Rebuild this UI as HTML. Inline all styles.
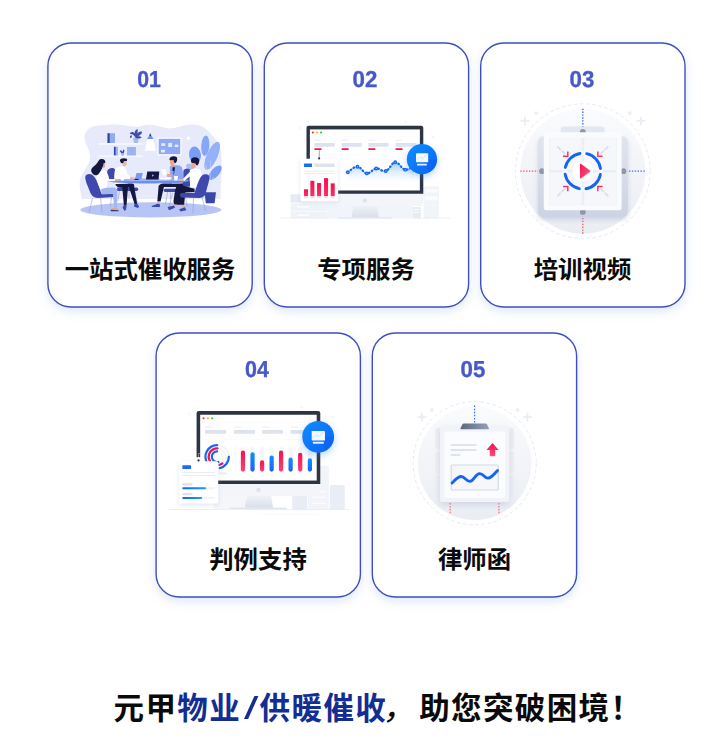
<!DOCTYPE html>
<html lang="zh-CN">
<head>
<meta charset="utf-8">
<title>元甲物业/供暖催收</title>
<style>
html,body{margin:0;padding:0;background:#fff;}
body{width:728px;height:740px;position:relative;overflow:hidden;font-family:"Liberation Sans","Noto Sans CJK SC",sans-serif;}
svg{position:absolute;overflow:visible;}
.cards{left:0;top:0;width:728px;height:740px;}
.num{position:absolute;width:206px;text-align:center;font-weight:700;font-size:23.1px;line-height:26px;color:#4759ca;-webkit-text-stroke:0.35px #4759ca;transform:scaleX(.965);text-rendering:geometricPrecision;}
.ttl{position:absolute;width:226px;text-align:center;font-weight:700;font-size:24.4px;line-height:34px;color:#0a0a0a;white-space:nowrap;}
.foot{position:absolute;left:113.5px;top:686px;font-weight:700;font-size:30.5px;line-height:44px;letter-spacing:1.4px;color:#0a0a0a;white-space:nowrap;}
.foot i{font-style:normal;font-weight:400;display:inline-block;transform:scaleX(1.7);margin:0 4.5px 0 5.5px;letter-spacing:0;}
.foot u{text-decoration:none;font-weight:500;display:inline-block;transform:skewX(-12deg);margin:0 2px 0 -2px;}
.foot b{color:#122e93;font-weight:700;}
</style>
</head>
<body>
<svg class="cards" viewBox="0 0 728 740">
<defs>
<filter id="cs" x="-15%" y="-10%" width="130%" height="125%"><feDropShadow dx="0" dy="4" stdDeviation="5" flood-color="#6f95e6" flood-opacity="0.22"/></filter>
</defs>
<g fill="#fff" stroke="#3d4fbc" stroke-width="1.4" filter="url(#cs)">
<rect x="47.9" y="43" width="204.3" height="264" rx="23"/>
<rect x="264.3" y="43" width="204.3" height="264" rx="23"/>
<rect x="480.7" y="43" width="204.3" height="264" rx="23"/>
<rect x="156.1" y="333" width="204.3" height="264" rx="23"/>
<rect x="372.3" y="333" width="204.3" height="264" rx="23"/>
</g>
</svg>
<div class="num" style="left:46.2px;top:66.4px;transform:scaleX(.92)">01</div>
<div class="num" style="left:261.8px;top:66.4px">02</div>
<div class="num" style="left:478.8px;top:66.4px">03</div>
<div class="num" style="left:154.1px;top:356.4px;transform:scaleX(.93)">04</div>
<div class="num" style="left:370.3px;top:356.4px">05</div>
<div class="ttl" style="left:37px;top:253.4px">一站式催收服务</div>
<div class="ttl" style="left:253px;top:253.4px">专项服务</div>
<div class="ttl" style="left:469.5px;top:253.4px">培训视频</div>
<div class="ttl" style="left:145px;top:543.4px">判例支持</div>
<div class="ttl" style="left:361.5px;top:543.4px">律师函</div>
<svg style="left:75px;top:120px;width:150px;height:100px" viewBox="0 0 1110 740">
<!-- background blob -->
<path d="M70 120 C76 70 120 46 164 43 C220 38 260 33 307 34 C360 35 400 50 449 50 C490 50 510 36 545 35 C610 34 650 62 703 62 C760 62 800 34 866 34 C930 34 970 60 995 91 C1030 130 1045 150 1060 172 C1085 220 1085 280 1085 340 C1085 430 1075 500 1078 585 L50 585 C45 540 30 500 36 450 C42 390 120 330 112 262 C106 210 66 170 70 120Z" fill="#e6eafb"/>
<!-- ground -->
<ellipse cx="561" cy="665" rx="522" ry="56" fill="#b7c5f6"/>
<!-- shelves -->
<rect x="170" y="170" width="332" height="14" fill="#f4f6fe"/>
<rect x="170" y="262" width="332" height="13" fill="#f4f6fe"/>
<rect x="240" y="98" width="18" height="72" fill="#3442a6"/>
<rect x="258" y="98" width="38" height="72" fill="#8fabf5"/>
<rect x="288" y="198" width="14" height="64" fill="#3442a6"/>
<rect x="302" y="198" width="16" height="64" fill="#9db3f2"/>
<rect x="385" y="200" width="66" height="62" fill="#9db3f2"/>
<rect x="418" y="200" width="4" height="62" fill="#8fabf5"/>
<!-- small plant on lower shelf -->
<path d="M340 245 L364 245 L360 264 L344 264Z" fill="#a9bbe8"/>
<path d="M352 246 C330 240 332 225 340 222 C345 230 350 232 352 240 C352 228 356 220 362 218 C368 226 366 236 358 246Z" fill="#3442a6"/>
<!-- plant upper shelf -->
<path d="M430 132 L472 132 L466 170 L436 170Z" fill="#a9bbe8"/>
<path d="M450 135 C440 110 420 100 405 104 C410 86 430 84 442 100 C440 84 448 70 462 66 C466 80 464 92 458 104 C468 88 486 80 496 88 C494 104 480 112 466 120 C480 118 490 122 494 132 C480 138 462 136 450 135Z" fill="#3f4ea8"/>
<path d="M420 112 C408 112 404 124 408 134 C418 132 424 124 420 112Z" fill="#3f4ea8"/>
<!-- lamp -->
<rect x="556" y="30" width="3" height="78" fill="#fff"/>
<path d="M557 96 L566 120 L548 120Z" fill="#2c357f"/><path d="M548 118 L566 118 L582 141 L533 141Z" fill="#6b8cf0"/>
<path d="M535 140 L580 140 L598 228 L517 228Z" fill="#fff"/>
<!-- board -->
<rect x="610" y="130" width="178" height="132" fill="#fff"/>
<rect x="619" y="139" width="160" height="114" fill="#8fa9f5"/>
<rect x="638" y="172" width="30" height="20" fill="#e4ebfe"/>
<rect x="690" y="170" width="28" height="30" fill="#e4ebfe"/>
<rect x="738" y="182" width="26" height="18" fill="#e4ebfe"/>
<rect x="636" y="220" width="30" height="20" fill="#e4ebfe"/>
<circle cx="840" cy="135" r="12" fill="#fff"/>
<!-- big plant -->
<g transform="translate(518 0)">
<ellipse cx="335" cy="345" rx="32" ry="20" fill="#a9bcf5" transform="rotate(20 335 345)"/>
<ellipse cx="370" cy="258" rx="44" ry="62" fill="#7a9df5" transform="rotate(-8 370 258)"/>
<ellipse cx="446" cy="190" rx="30" ry="76" fill="#86a6f6" transform="rotate(4 446 190)"/>
<ellipse cx="497" cy="265" rx="40" ry="112" fill="#95b1f7" transform="rotate(24 497 265)"/>
<ellipse cx="518" cy="390" rx="30" ry="66" fill="#7a9df5" transform="rotate(42 518 390)"/>
<path d="M480 540 L486 300 M480 540 L450 330 M482 540 L505 420" stroke="#dfe6fb" stroke-width="3" fill="none"/>
<path d="M440 535 L525 535 L515 616 L450 616Z" fill="#3b47a8"/>
</g>
<!-- chairs behind -->
<path d="M240 375 C250 350 285 350 296 365 L300 450 C285 455 255 452 245 440 C236 420 234 395 240 375Z" fill="#3f49ad"/>
<g transform="translate(518 0)">
<path d="M284 378 C288 354 334 350 343 378 L345 440 L330 494 L258 494 L262 470 L284 440Z" fill="#3f49ad"/>
<path d="M167 533 L151 627 M190 533 L187 588 M206 540 L171 666 M250 530 L262 600" stroke="#8e97c9" stroke-width="4" fill="none"/>
<path d="M150 508 L250 508 Q262 510 262 520 Q262 532 250 533 L150 533 Q138 531 138 520 Q138 510 150 508Z" fill="#3f49ad"/>
</g>
<!-- man 2 lower -->
<path d="M330 520 L318 600 M440 522 L462 610 M400 520 L400 580" stroke="#8e97c9" stroke-width="4" fill="none"/>
<path d="M312 500 L455 500 Q468 502 468 513 Q468 525 455 526 L312 526Z" fill="#3f49ad"/>
<path d="M298 470 L425 470 Q442 474 438 494 L460 620 L442 626 L400 500 L392 500 L381 632 L362 632 L350 502 Q302 502 298 470Z" fill="#14173f"/>
<path d="M360 630 L382 630 L378 662 L368 674 L352 650Z" fill="#3a49b0"/>
<path d="M440 624 L460 618 L474 640 L466 652 L436 640Z" fill="#3a49b0"/>
<!-- man 3 lower -->
<g transform="translate(518 0)">
<path d="M280 470 L135 470 C108 472 98 486 100 500 L91 603 L115 604 L140 496 L282 496Z" fill="#14173f"/>
<path d="M92 603 L109 603 L108 624 L93 624Z" fill="#f2a58c"/>
<path d="M50 636 L92 620 L110 624 L110 644 L50 644Z" fill="#3a49b0"/>
</g>
<!-- torsos -->
<path d="M296 368 C306 348 340 340 362 346 C378 354 384 380 386 405 L390 470 L296 474 C288 440 288 400 296 368Z" fill="#fff"/>
<path d="M350 298 L380 298 L382 330 L372 342 L355 340Z" fill="#f2b39d"/>
<path d="M332 300 C334 284 360 278 386 288 L384 304 L362 304 L356 320 L340 318Z" fill="#14173f"/>
<g transform="translate(518 0)">
<path d="M184 345 C204 332 252 332 270 346 C282 362 283 420 281 470 L200 474 L196 420 L184 400Z" fill="#8ca6f0"/>
<path d="M186 292 L216 292 L218 330 L206 346 L192 338 L184 318Z" fill="#f2a58c"/>
<path d="M180 290 C184 268 215 262 236 276 C242 292 236 310 226 320 L214 312 L212 296 L184 298Z" fill="#14173f"/>
<path d="M205 350 L222 350 L214 404 L200 398Z" fill="#14173f"/>
</g>
<!-- table -->
<path d="M225 448 C225 438 400 434 530 434 C680 434 848 438 848 448 C848 462 700 470 530 470 C380 470 225 462 225 448Z" fill="#6f8deb"/>
<path d="M235 444 C300 437 420 435 530 435 C650 435 800 438 840 444 C780 450 650 452 530 452 C410 452 290 450 235 444Z" fill="#9fb6f6"/>
<!-- arms + items -->
<path d="M366 400 L388 400 L410 418 L410 436 L384 436 Z" fill="#fff"/><path d="M408 422 L440 426 L440 436 L408 436Z" fill="#f2b39d"/>
<path d="M335 415 L366 415 L362 447 L339 447Z" fill="#fff"/>
<path d="M455 392 L502 392 L490 440 L443 440Z" fill="#7d9af0"/>
<rect x="440" y="436" width="30" height="8" fill="#14173f"/>
<path d="M535 382 L624 382 L618 440 L525 440Z" fill="#14173f"/>
<path d="M570 402 L586 411 L570 420Z" fill="#8ca5f0"/>
<rect x="250" y="440" width="70" height="8" fill="#fff"/>
<g transform="translate(518 0)">
<rect x="108" y="428" width="80" height="13" fill="#fff"/>
<path d="M120 366 L150 362 L162 406 L136 412Z" fill="#fff"/>
<path d="M190 372 L214 380 L206 420 L166 420 L162 404 L186 400Z" fill="#8ca6f0"/>
<path d="M160 402 L196 400 L198 418 L164 420Z" fill="#f2a58c"/>
<path d="M214 415 L244 415 L240 447 L218 447Z" fill="#fff"/>
</g>
<!-- woman chair -->
<path d="M76 420 C80 398 110 394 132 408 C160 430 180 500 196 545 L292 545 C304 548 304 566 292 570 L170 578 C140 578 120 560 110 530 C96 490 74 450 76 420Z" fill="#3f49ad"/>
<path d="M130 578 L104 684 M190 578 L200 692 M270 572 L262 640" stroke="#8e97c9" stroke-width="4" fill="none"/>
<!-- woman -->
<path d="M190 502 L290 500 C310 504 316 520 314 540 L312 650 L290 650 L280 546 L200 552Z" fill="#a3b8f2"/>
<path d="M268 650 L312 650 L324 670 L272 674Z" fill="#e5a58f"/><path d="M262 664 L322 668 L322 676 L266 676Z" fill="#2c357f"/>
<path d="M160 400 C180 372 216 366 232 380 C244 400 250 420 252 436 L300 440 L298 452 L240 456 L236 500 L190 512 C170 480 156 440 160 400Z" fill="#fff"/>
<path d="M204 316 L224 318 L222 350 L208 356Z" fill="#f0a98c"/>
<path d="M186 290 C210 284 228 296 224 318 L212 318 C210 340 196 372 176 398 C160 418 130 410 120 380 C116 350 150 340 164 318 C172 304 178 294 186 290Z" fill="#14173f"/>
<path d="M296 438 L322 440 L322 452 L296 452Z" fill="#f0a98c"/>
<!-- man 4 + chair -->
<g transform="translate(518 0)">
<path d="M359 572 L355 690 M421 568 L449 674 M300 572 L312 640" stroke="#8e97c9" stroke-width="4" fill="none"/>
<path d="M234 482 L280 484 L367 508 L367 532 L298 536 L290 628 L218 628 L210 603 L222 525Z" fill="#14173f"/>
<path d="M214 626 L236 626 L234 640 L216 640Z M272 632 L292 632 L292 650 L274 648Z" fill="#f2a58c"/>
<path d="M167 644 L214 632 L222 650 L178 668Z" fill="#3a49b0"/>
<path d="M253 660 L296 646 L306 668 L262 678Z" fill="#3a49b0"/>
<path d="M332 372 C350 354 395 354 412 372 C424 400 424 450 418 496 L336 500 L330 440Z" fill="#fff"/>
<path d="M344 372 L372 384 L290 452 L252 452 L252 438 L280 436Z" fill="#fff"/>
<path d="M249 438 L286 438 L286 451 L249 451Z" fill="#f2a58c"/>
<path d="M342 306 L368 306 L376 352 L350 358Z" fill="#f2a58c"/>
<path d="M339 300 C340 274 382 266 400 290 C406 310 396 330 384 338 L370 320 L344 316Z" fill="#14173f"/>
<path d="M476 420 C474 398 440 396 420 412 C396 440 380 500 366 540 L270 541 C256 544 256 570 270 574 L400 578 C430 578 448 560 452 530 C462 490 478 450 476 420Z" fill="#3f49ad"/>
</g>
</svg>
<svg style="left:275px;top:115px;width:190px;height:110px" viewBox="0 0 1278.7 740.3">
<defs>
<linearGradient id="g2red" x1="0" y1="0" x2="0" y2="1"><stop offset="0" stop-color="#f5104c"/><stop offset="1" stop-color="#fb3068"/></linearGradient>
<linearGradient id="g2area" x1="0" y1="0" x2="0" y2="1"><stop offset="0" stop-color="#9ccbfd"/><stop offset="1" stop-color="#ffffff" stop-opacity="0"/></linearGradient>
<linearGradient id="g2badge" x1="0" y1="0" x2="1" y2="1"><stop offset="0" stop-color="#0b8eff"/><stop offset="1" stop-color="#0a62fa"/></linearGradient>
<linearGradient id="g2stand" x1="0" y1="0" x2="0" y2="1"><stop offset="0" stop-color="#eef1f7"/><stop offset="1" stop-color="#d9dfea"/></linearGradient>
<filter id="f2card" x="-30%" y="-30%" width="160%" height="160%"><feDropShadow dx="0" dy="10" stdDeviation="14" flood-color="#8fa3c8" flood-opacity="0.28"/></filter>
<filter id="f2glow" x="-50%" y="-50%" width="200%" height="200%"><feDropShadow dx="0" dy="18" stdDeviation="22" flood-color="#2b8cff" flood-opacity="0.35"/></filter>
</defs>
<!-- background shapes -->
<rect x="105" y="535" width="246" height="160" rx="8" fill="#eff2f8"/>
<path d="M113 535 L175 535 L175 588 L105 588 L105 543 Q105 535 113 535Z" fill="#e6eaf3"/>
<rect x="105" y="590" width="246" height="8" fill="#f8f9fc"/>
<rect x="105" y="645" width="246" height="8" fill="#f8f9fc"/>
<rect x="150" y="612" width="80" height="12" rx="4" fill="#fbfcfe"/>
<rect x="150" y="668" width="80" height="12" rx="4" fill="#fbfcfe"/>
<rect x="1001" y="480" width="102" height="215" rx="6" fill="#f1f4f9"/>
<rect x="1008" y="500" width="86" height="22" fill="#fafbfd"/>
<rect x="1008" y="545" width="86" height="30" fill="#fafbfd"/>
<circle cx="1070" cy="603" r="9" fill="none" stroke="#fafbfd" stroke-width="5"/>
<circle cx="1036" cy="603" r="5" fill="#fafbfd"/>
<rect x="926" y="620" width="55" height="75" fill="#e6ebf4"/>
<rect x="934" y="632" width="40" height="8" fill="#fafbfd"/>
<rect x="934" y="650" width="40" height="8" fill="#fafbfd"/>
<!-- ground -->
<rect x="35" y="691" width="1145" height="4" fill="#e2e7f0"/>
<rect x="230" y="700" width="800" height="26" fill="none" stroke="#f3f5f9" stroke-width="3"/>
<!-- decorative dots -->
<circle cx="170" cy="88" r="9" fill="none" stroke="#eef1f6" stroke-width="4"/>
<circle cx="881" cy="48" r="8" fill="#f1f3f8"/>
<circle cx="1064" cy="148" r="10" fill="#f1f3f8"/>
<circle cx="225" cy="45" r="4" fill="#f1f3f8"/>
<!-- monitor -->
<rect x="351" y="600" width="580" height="92" fill="#f1f4fa"/>
<rect x="212" y="72" width="786" height="540" rx="14" fill="#f3f5fa"/>
<path d="M226 72 L984 72 Q998 72 998 86 L998 530 L212 530 L212 86 Q212 72 226 72Z" fill="#2e3542"/>
<rect x="235" y="97" width="740" height="411" fill="#fff"/>
<circle cx="605" cy="575" r="14" fill="#dde3ee"/>
<path d="M527 612 L688 612 L700 690 L515 690Z" fill="url(#g2stand)"/>
<rect x="425" y="688" width="361" height="8" fill="#dfe4ee"/>
<!-- screen content -->
<circle cx="255" cy="118" r="7" fill="#fb1f3f"/>
<circle cx="283" cy="118" r="7" fill="#fdb40e"/>
<circle cx="310" cy="118" r="7" fill="#12d22c"/>
<rect x="232" y="140" width="746" height="3" fill="#f3f5f9"/>
<rect x="232" y="262" width="746" height="3" fill="#f5f6fa"/>
<g fill="#dde3ee">
<rect x="265" y="188" width="136" height="25" rx="3"/><rect x="448" y="188" width="136" height="25" rx="3"/><rect x="628" y="188" width="136" height="25" rx="3"/><rect x="811" y="188" width="136" height="25" rx="3"/>
</g>
<g fill="#eceff5">
<rect x="265" y="166" width="46" height="8"/><rect x="448" y="166" width="46" height="8"/><rect x="628" y="166" width="46" height="8"/><rect x="811" y="166" width="46" height="8"/>
</g>
<g fill="#f5124e">
<rect x="265" y="224" width="48" height="12" rx="4"/><rect x="448" y="224" width="48" height="12" rx="4"/><rect x="628" y="224" width="48" height="12" rx="4"/><rect x="811" y="224" width="48" height="12" rx="4"/>
</g>
<!-- line chart -->
<path d="M490 385 C503 378 529 346 555 348 C581 350 593 391 618 393 C643 395 655 363 681 360 C707 357 720 385 746 377 C772 369 783 320 809 318 C835 316 851 364 876 368 C901 372 923 346 935 340 L935 470 L490 470Z" fill="url(#g2area)"/>
<path d="M490 385 C503 378 529 346 555 348 C581 350 593 391 618 393 C643 395 655 363 681 360 C707 357 720 385 746 377 C772 369 783 320 809 318 C835 316 851 364 876 368 C901 372 923 346 935 340" fill="none" stroke="#1465f0" stroke-width="15" stroke-linejoin="round" stroke-linecap="round" stroke-dasharray="5 19"/>
<g fill="#1465f0"><circle cx="490" cy="385" r="13"/><circle cx="555" cy="348" r="13"/><circle cx="618" cy="393" r="13"/><circle cx="681" cy="360" r="13"/><circle cx="746" cy="377" r="13"/><circle cx="809" cy="318" r="13"/><circle cx="876" cy="368" r="13"/></g>
<g fill="#cfe3fd"><circle cx="490" cy="385" r="3.5"/><circle cx="555" cy="348" r="3.5"/><circle cx="618" cy="393" r="3.5"/><circle cx="681" cy="360" r="3.5"/><circle cx="746" cy="377" r="3.5"/><circle cx="809" cy="318" r="3.5"/><circle cx="876" cy="368" r="3.5"/></g>
<!-- connector -->
<rect x="295.5" y="236" width="3" height="54" fill="#3a4150"/>
<!-- floating card -->
<rect x="172" y="295" width="253" height="285" rx="10" fill="#fff" filter="url(#f2card)"/>
<circle cx="297" cy="292" r="7" fill="#2e3542"/>
<rect x="195" y="327" width="54" height="23" rx="4" fill="#1a6cf5"/>
<rect x="265" y="327" width="136" height="23" rx="3" fill="#dde3ee"/>
<rect x="195" y="375" width="206" height="6" fill="#e6eaf2"/>
<rect x="195" y="392" width="68" height="6" fill="#e6eaf2"/>
<rect x="276" y="392" width="125" height="6" fill="#e6eaf2"/>
<g fill="url(#g2red)">
<rect x="195" y="500" width="27" height="46"/><rect x="238" y="443" width="27" height="103"/><rect x="283" y="458" width="27" height="88"/><rect x="330" y="425" width="27" height="121"/><rect x="375" y="460" width="27" height="86"/>
</g>
<g fill="#ff4d7e" opacity="0.18">
<rect x="195" y="548" width="27" height="14"/><rect x="238" y="548" width="27" height="14"/><rect x="283" y="548" width="27" height="14"/><rect x="330" y="548" width="27" height="14"/><rect x="375" y="548" width="27" height="14"/>
</g>
<!-- badge -->
<circle cx="989" cy="297" r="102" fill="url(#g2badge)" filter="url(#f2glow)"/>
<path d="M989 297 L1091 297 A102 102 0 0 1 1040 385Z" fill="#0a55f0" opacity="0.3"/>
<rect x="949" y="258" width="82" height="60" rx="3" fill="#f4f8ff"/>
<path d="M955 300 L980 282 L992 292 L1022 266" fill="none" stroke="#cfdcf5" stroke-width="5"/>
<rect x="956" y="328" width="66" height="12" rx="2" fill="#e8f0ff"/>
</svg>
<svg style="left:513px;top:100px;width:140px;height:140px" viewBox="0 0 728 728">
<defs>
<linearGradient id="g3bg" x1="0" y1="0" x2="0" y2="1"><stop offset="0" stop-color="#fafbfd"/><stop offset="1" stop-color="#eaedf3"/></linearGradient>
<linearGradient id="g3plate" x1="0" y1="0" x2="0" y2="1"><stop offset="0" stop-color="#e0e5ef"/><stop offset="1" stop-color="#ccd3e2"/></linearGradient>
<linearGradient id="g3play" x1="0" y1="0" x2="1" y2="1"><stop offset="0" stop-color="#f5104c"/><stop offset="1" stop-color="#ff5f8c"/></linearGradient>
<filter id="f3s" x="-20%" y="-20%" width="140%" height="150%"><feDropShadow dx="0" dy="14" stdDeviation="14" flood-color="#8f9cba" flood-opacity="0.35"/></filter>
</defs>
<circle cx="363" cy="370" r="350" fill="none" stroke="#e2e5ec" stroke-width="4.5" stroke-dasharray="18 14"/>
<circle cx="363" cy="370" r="325" fill="url(#g3bg)"/>
<g stroke="#eaedf4" stroke-width="9" stroke-linecap="round"><path d="M62 90 V128 M43 109 H81 M665 90 V128 M646 109 H684"/></g>
<circle cx="120" cy="68" r="10" fill="#eceff5"/><circle cx="607" cy="68" r="10" fill="#eceff5"/>
<!-- dotted lines -->
<g fill="none" stroke-width="7" stroke-dasharray="7 8">
<path d="M363 45 V150" stroke="#2f6cf2"/>
<path d="M588 370 H690" stroke="#2f6cf2"/>
<path d="M38 370 H140" stroke="#f9545f"/>
<path d="M363 598 V695" stroke="#f9545f"/>
</g>
<rect x="248" y="138" width="228" height="60" rx="16" fill="#e3e7f0"/>
<rect x="130" y="190" width="467" height="418" rx="26" fill="url(#g3plate)" filter="url(#f3s)"/>
<g fill="#8e96a8"><circle cx="363" cy="166" r="15"/><circle cx="574" cy="370" r="15"/><circle cx="151" cy="370" r="15"/><circle cx="363" cy="582" r="15"/></g>
<rect x="160" y="168" width="405" height="405" rx="14" fill="#fafbfd"/>
<rect x="188" y="196" width="351" height="351" rx="8" fill="#ebeef4"/>
<g fill="#f5f7fa"><rect x="190" y="198" width="167" height="166" rx="8"/><rect x="370" y="198" width="167" height="166" rx="8"/><rect x="190" y="377" width="167" height="168" rx="8"/><rect x="370" y="377" width="167" height="168" rx="8"/></g>
<!-- gray arrows -->
<g stroke="#d9dee8" stroke-width="9" stroke-linecap="round" stroke-dasharray="18 14"><path d="M233 244 L272 282 M493 244 L454 282 M233 498 L272 460 M493 498 L454 460"/></g>
<!-- red brackets -->
<g fill="none" stroke="#ff3366" stroke-width="8"><path d="M260 292 H285 V268"/><path d="M466 292 H441 V268"/><path d="M260 450 H285 V474"/><path d="M466 450 H441 V474"/></g>
<!-- blue ring -->
<circle cx="363" cy="370" r="93" fill="none" stroke="#fafbfd" stroke-width="22"/>
<circle cx="363" cy="370" r="93" fill="none" stroke="#1465f0" stroke-width="15" stroke-linecap="round" stroke-dasharray="110 36.1" stroke-dashoffset="-18"/>
<circle cx="363" cy="370" r="53" fill="#fff"/>
<path d="M348 336 Q348 329 354 333 L399 365 Q405 370 399 375 L354 407 Q348 411 348 404Z" fill="url(#g3play)"/>
</svg>
<svg style="left:165px;top:400px;width:190px;height:120px" viewBox="0 0 1172.3 740.4">
<defs>
<linearGradient id="g4red" x1="0" y1="0" x2="0" y2="1"><stop offset="0" stop-color="#f5104c"/><stop offset="1" stop-color="#ff3f78"/></linearGradient>
<linearGradient id="g4blue" x1="0" y1="0" x2="0" y2="1"><stop offset="0" stop-color="#0c92ff"/><stop offset="1" stop-color="#1a63f2"/></linearGradient>
<linearGradient id="g4bar" x1="0" y1="0" x2="1" y2="0"><stop offset="0" stop-color="#1463f2"/><stop offset="1" stop-color="#14a0ff"/></linearGradient>
</defs>
<!-- background shapes -->
<rect x="785" y="590" width="92" height="86" fill="#e8ecf5"/>
<rect x="880" y="405" width="130" height="271" rx="6" fill="#f2f4f9"/>
<rect x="905" y="560" width="85" height="9" fill="#fbfcfe"/><rect x="905" y="596" width="85" height="9" fill="#fbfcfe"/><rect x="905" y="632" width="85" height="9" fill="#fbfcfe"/>
<rect x="1017" y="525" width="92" height="151" rx="8" fill="#e9edf5"/>
<!-- ground -->
<rect x="25" y="673" width="1110" height="4" fill="#e2e7f0"/>
<rect x="575" y="680" width="375" height="24" rx="6" fill="none" stroke="#f3f5f9" stroke-width="3"/>
<circle cx="152" cy="85" r="9" fill="none" stroke="#eef1f6" stroke-width="4"/>
<circle cx="843" cy="47" r="8" fill="#f1f3f8"/><circle cx="1033" cy="105" r="8" fill="#f1f3f8"/><circle cx="208" cy="45" r="4" fill="#f1f3f8"/>
<!-- monitor -->
<rect x="300" y="585" width="200" height="90" fill="#f4f6fa"/>
<rect x="195" y="68" width="763" height="524" rx="14" fill="#f3f5fa"/>
<path d="M209 68 L944 68 Q958 68 958 82 L958 518 L195 518 L195 82 Q195 68 209 68Z" fill="#2e3542"/>
<rect x="217" y="91" width="719" height="406" fill="#fff"/>
<circle cx="577" cy="555" r="14" fill="#dde3ee"/>
<path d="M505 592 L655 592 L667 665 L493 665Z" fill="url(#g2stand)"/>
<rect x="400" y="664" width="350" height="9" fill="#dfe4ee"/>
<!-- screen -->
<circle cx="238" cy="113" r="6.5" fill="#fb1f3f"/><circle cx="265" cy="113" r="6.5" fill="#fdb40e"/><circle cx="291" cy="113" r="6.5" fill="#12d22c"/>
<rect x="215" y="135" width="723" height="3" fill="#f3f5f9"/>
<rect x="215" y="240" width="723" height="3" fill="#f3f5f9"/>
<rect x="434" y="270" width="3" height="190" fill="#f1f3f8"/>
<g fill="#dde3ee"><rect x="247" y="185" width="131" height="23" rx="3"/><rect x="425" y="185" width="131" height="23" rx="3"/><rect x="600" y="185" width="128" height="23" rx="3"/><rect x="775" y="185" width="128" height="23" rx="3"/></g>
<g fill="#eceff5"><rect x="247" y="163" width="45" height="8"/><rect x="425" y="163" width="45" height="8"/><rect x="600" y="163" width="45" height="8"/><rect x="775" y="163" width="45" height="8"/></g>
<!-- donut -->
<circle cx="322" cy="350" r="72" fill="none" stroke="#eef1f6" stroke-width="8"/>
<circle cx="322" cy="350" r="52" fill="none" stroke="#f3f5f9" stroke-width="8"/>
<path d="M322 278 A72 72 0 0 0 262 390" fill="none" stroke="#1465f0" stroke-width="13.5" stroke-linecap="round"/>
<path d="M394 350 A72 72 0 0 1 338 420" fill="none" stroke="#1465f0" stroke-width="13.5" stroke-linecap="round"/>
<path d="M324 298 A52 52 0 0 0 277 376" fill="none" stroke="#f5124e" stroke-width="14" stroke-linecap="round"/>
<path d="M354 391 A52 52 0 0 1 336 400" fill="none" stroke="#f5124e" stroke-width="14" stroke-linecap="round"/>
<path d="M322 317 A33 33 0 1 0 330 382" fill="none" stroke="#1465f0" stroke-width="13" stroke-linecap="round"/>
<rect x="330" y="447" width="50" height="11" fill="#e6eaf2"/>
<!-- bars -->
<g fill="#f4f6fa"><rect x="468" y="290" width="26" height="152" rx="13"/><rect x="527" y="290" width="26" height="152" rx="13"/><rect x="586" y="290" width="26" height="152" rx="13"/><rect x="645" y="290" width="26" height="152" rx="13"/><rect x="703" y="290" width="26" height="152" rx="13"/><rect x="762" y="290" width="26" height="152" rx="13"/><rect x="821" y="290" width="26" height="152" rx="13"/><rect x="881" y="290" width="26" height="152" rx="13"/></g>
<rect x="468" y="312" width="26" height="130" rx="13" fill="url(#g4red)"/>
<rect x="527" y="322" width="26" height="120" rx="13" fill="url(#g4blue)"/>
<rect x="586" y="372" width="26" height="70" rx="13" fill="url(#g4red)"/>
<rect x="645" y="342" width="26" height="100" rx="13" fill="url(#g4blue)"/>
<rect x="703" y="312" width="26" height="130" rx="13" fill="url(#g4red)"/>
<rect x="762" y="355" width="26" height="87" rx="13" fill="url(#g4blue)"/>
<rect x="821" y="325" width="26" height="117" rx="13" fill="url(#g4red)"/>
<rect x="881" y="360" width="26" height="82" rx="13" fill="url(#g4blue)"/>
<!-- connector -->
<path d="M207 372 V330 H240" fill="none" stroke="#e3e7ef" stroke-width="3"/>
<!-- floating card -->
<rect x="88" y="378" width="240" height="260" rx="10" fill="#fff" filter="url(#f2card)"/>
<rect x="190" y="353" width="30" height="30" fill="#fff"/>
<circle cx="207" cy="373" r="7" fill="#2e3542"/>
<rect x="107" y="402" width="54" height="23" rx="4" fill="#1a6cf5"/>
<rect x="107" y="445" width="201" height="5" fill="#e6eaf2"/>
<rect x="107" y="463" width="72" height="5" fill="#e6eaf2"/><rect x="186" y="463" width="122" height="5" fill="#e6eaf2"/>
<rect x="107" y="513" width="62" height="15" fill="#dde3ee"/>
<rect x="107" y="538" width="201" height="12" rx="6" fill="#f1f3f8"/><rect x="107" y="538" width="146" height="12" rx="6" fill="url(#g4bar)"/>
<rect x="107" y="573" width="62" height="15" fill="#dde3ee"/>
<rect x="107" y="599" width="201" height="12" rx="6" fill="#f1f3f8"/><rect x="107" y="599" width="122" height="12" rx="6" fill="url(#g4bar)"/>
<!-- badge -->
<circle cx="945" cy="227" r="98" fill="url(#g2badge)" filter="url(#f2glow)"/>
<path d="M945 227 L1043 227 A98 98 0 0 1 994 312Z" fill="#0a55f0" opacity="0.3"/>
<rect x="905" y="192" width="82" height="58" rx="3" fill="#f4f8ff"/>
<path d="M911 234 L936 216 L948 226 L978 200" fill="none" stroke="#cfdcf5" stroke-width="5"/>
<rect x="913" y="258" width="67" height="12" rx="2" fill="#e8f0ff"/>
</svg>
<svg style="left:405px;top:395px;width:140px;height:140px" viewBox="0 0 728 728">
<defs>
<linearGradient id="g5clip" x1="0" y1="0" x2="1" y2="0"><stop offset="0" stop-color="#5c677f"/><stop offset="1" stop-color="#97a1b5"/></linearGradient>
<linearGradient id="g5arrow" x1="0" y1="0" x2="0" y2="1"><stop offset="0" stop-color="#f5104c"/><stop offset="1" stop-color="#ff4d80"/></linearGradient>
<filter id="f5s" x="-20%" y="-20%" width="140%" height="150%"><feDropShadow dx="0" dy="16" stdDeviation="16" flood-color="#8f9cba" flood-opacity="0.3"/></filter>
</defs>
<circle cx="362" cy="355" r="320" fill="none" stroke="#e2e5ec" stroke-width="4.5" stroke-dasharray="18 14"/>
<circle cx="362" cy="355" r="295" fill="url(#g3bg)"/>
<g stroke="#eaedf4" stroke-width="9" stroke-linecap="round"><path d="M88 96 V134 M69 115 H107 M637 96 V134 M618 115 H656"/></g>
<circle cx="140" cy="78" r="10" fill="#eceff5"/><circle cx="585" cy="78" r="10" fill="#eceff5"/>
<path d="M362 55 V146" stroke="#2f6cf2" stroke-width="6" stroke-dasharray="8 8" fill="none"/>
<path d="M235 562 V616 M488 562 V616" stroke="#fa6a6a" stroke-width="6" stroke-dasharray="8 7" fill="none"/>
<!-- side tabs -->
<g fill="#eceef4"><rect x="157" y="170" width="60" height="112" rx="14"/><rect x="157" y="295" width="60" height="112" rx="14"/><rect x="157" y="420" width="60" height="112" rx="14"/><rect x="507" y="170" width="60" height="112" rx="14"/><rect x="507" y="295" width="60" height="112" rx="14"/><rect x="507" y="420" width="60" height="112" rx="14"/></g>
<rect x="182" y="160" width="360" height="396" rx="14" fill="#f1f3f8" filter="url(#f5s)"/>
<rect x="205" y="190" width="316" height="346" rx="10" fill="#fbfcfe"/>
<path d="M306 148 L419 148 Q424 148 427 153 L437 174 Q439 178 434 178 L291 178 Q286 178 288 174 L298 153 Q301 148 306 148Z" fill="url(#g5clip)"/>
<g fill="#d5dbe6"><rect x="238" y="256" width="134" height="8" rx="2"/><rect x="238" y="282" width="134" height="8" rx="2"/><rect x="238" y="308" width="50" height="8" rx="2"/></g>
<path d="M455 250 L487 286 L469 286 L469 318 L441 318 L441 286 L423 286Z" fill="url(#g5arrow)"/>
<rect x="240" y="364" width="245" height="130" rx="5" fill="#f6f7fb" stroke="#d3d9e5" stroke-width="6"/>
<path d="M245 458 C262 440 275 424 292 424 C312 424 318 450 338 449 C358 448 366 410 388 409 C408 408 414 434 432 432 C452 430 464 408 481 393" fill="none" stroke="#1465f0" stroke-width="15" stroke-linecap="round"/>
</svg>
<div class="foot">元甲<b>物业<i>/</i>供暖催收</b><u>，</u>助您突破困境！</div>
</body>
</html>
